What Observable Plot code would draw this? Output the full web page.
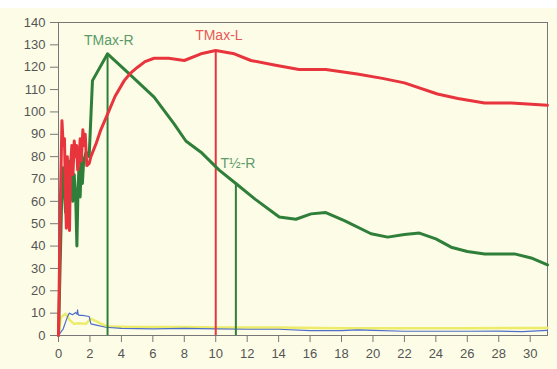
<!DOCTYPE html>
<html>
<head>
<meta charset="utf-8">
<script src="https://cdn.jsdelivr.net/npm/d3@7"></script>
<script src="https://cdn.jsdelivr.net/npm/@observablehq/plot@0.6"></script>
<style>
  html, body { margin: 0; padding: 0; background: #ffffff; }
  #top { height: 8px; background: #ffffff; }
  #chart svg { display: block; background: #fdfde7; }
</style>
</head>
<body>
<div id="top"></div>
<div id="chart"></div>
<script>
// Right kidney (green)
const rightT = [0, 0.2, 0.3, 0.45, 0.55, 0.62, 0.75, 0.9, 1.0, 1.1, 1.17, 1.24, 1.3, 1.38, 1.45, 1.52, 1.6, 1.75, 1.95, 2.16, 3.12, 4.5, 6.08, 7.34, 8.1, 9.06, 10.22, 11.28, 12.5, 14.04, 15.1, 16.06, 17.0, 18.18, 19.88, 20.94, 22.0, 22.95, 24.0, 24.97, 26.0, 27.1, 29.0, 30.06, 31.1];
const rightV = [0, 60, 75, 55, 72, 50, 78, 60, 72, 60, 40, 65, 75, 62, 80, 68, 78, 82, 80, 114, 126, 117, 106.6, 94.8, 87, 82, 74, 68, 61, 53, 52, 54.4, 55, 51.4, 45.5, 44, 45.2, 45.8, 43.2, 39.5, 37.6, 36.5, 36.5, 34.7, 31.6];
// Left kidney (red)
const leftT = [0, 0.12, 0.22, 0.3, 0.38, 0.45, 0.5, 0.56, 0.62, 0.7, 0.76, 0.85, 0.92, 1.0, 1.08, 1.15, 1.22, 1.3, 1.38, 1.45, 1.55, 1.62, 1.7, 1.8, 1.95, 2.06, 2.4, 2.69, 3.12, 3.6, 4.18, 4.6, 5.03, 5.5, 6.08, 7.0, 8.0, 9.06, 10.0, 11.18, 12.24, 13.72, 15.3, 17.0, 19.0, 20.6, 22.0, 24.1, 25.4, 27.1, 28.8, 31.1];
const leftV = [0, 60, 96, 85, 88, 60, 48, 80, 70, 47, 75, 85, 72, 87, 80, 85, 74, 78, 88, 78, 92, 85, 90, 76, 77, 80, 86, 92, 99, 107, 114, 117.5, 120, 122.5, 124, 124, 123, 126, 127.5, 126, 123, 121, 119, 119, 117, 115, 113, 108, 106, 104, 104, 103];
// Background (blue)
const blueT = [0, 0.3, 0.55, 0.68, 0.89, 1.1, 1.18, 1.21, 1.25, 1.31, 1.53, 1.95, 2.06, 2.48, 3.0, 4, 6, 8, 10, 12, 14, 16, 18, 19, 20, 22, 24, 26, 28, 29.5, 31.1];
const blueV = [0, 3, 8, 10, 9.3, 10.3, 9.5, 11.5, 9.5, 9, 9, 8.5, 5.2, 4.5, 3.7, 3.2, 3, 3.2, 3, 2.8, 2.8, 2.2, 2.2, 2.5, 2.3, 1.9, 1.9, 1.9, 2, 1.7, 2.3];
// Background (yellow)
const yellowT = [0, 0.15, 0.46, 0.7, 0.99, 1.3, 1.74, 2.06, 2.5, 3.1, 5, 8, 10, 14, 18, 22, 26, 31.1];
const yellowV = [0, 8.2, 9.7, 7, 5.2, 5.5, 5.2, 7.5, 6, 4, 3.8, 3.8, 3.6, 3.6, 3.2, 3.2, 3.2, 3.4];
// Markers
const markerNames = ["TMax-R", "TMax-L", "T½-R"];
const markerT = [3.12, 10.0, 11.28];
const markerV = [126, 127.5, 68];
const labelT = [3.2, 10.2, 10.3];
const labelV = [132, 134, 77];
const xTicks = d3.range(0, 31, 2);
const yTicks = d3.range(0, 141, 10);

const zip = (ts, vs) => ts.map((t, i) => ({t, v: vs[i]}));
const green = "#2f7f3a", red = "#e8343c";
const markerColors = [green, red, green];
const labelColors = ["#5a9a6a", "#e85858", "#5f9a6c"];
const markers = markerNames.map((n, i) => ({n, t: markerT[i], v: markerV[i], lt: labelT[i], lv: labelV[i], c: markerColors[i], lc: labelColors[i]}));

const chart = Plot.plot({
  width: 557,
  height: 361,
  marginTop: 14,
  marginBottom: 34,
  marginLeft: 58,
  marginRight: 10,
  style: {fontFamily: "Liberation Sans, Arial, sans-serif", fontSize: "13px", background: "#fdfde7", color: "#555"},
  x: {domain: [0, 31.1]},
  y: {domain: [0, 140]},
  marks: [
    Plot.frame({stroke: "#777", strokeWidth: 1}),
    Plot.axisX({ticks: xTicks, tickSize: 7, tickPadding: 6, label: null, stroke: "#777", fill: "#555", fontSize: 13}),
    Plot.axisY({ticks: yTicks, tickSize: 8, tickPadding: 5, label: null, stroke: "#777", fill: "#555", fontSize: 13}),
    Plot.line(zip(yellowT, yellowV), {x: "t", y: "v", stroke: "#ecec6a", strokeWidth: 2.5}),
    Plot.line(zip(blueT, blueV), {x: "t", y: "v", stroke: "#4f6fc8", strokeWidth: 1.2}),
    Plot.ruleX(markers, {x: "t", y1: 0, y2: "v", stroke: "c", strokeWidth: 2}),
    Plot.line(zip(rightT, rightV), {x: "t", y: "v", stroke: green, strokeWidth: 3, strokeLinejoin: "round"}),
    Plot.line(zip(leftT, leftV), {x: "t", y: "v", stroke: red, strokeWidth: 3, strokeLinejoin: "round"}),
    Plot.text(markers.slice(0, 2), {x: "lt", y: "lv", text: "n", fill: "lc", fontSize: 14, textAnchor: "middle"}),
    Plot.text(markers.slice(2), {x: "lt", y: "lv", text: "n", fill: "lc", fontSize: 14, textAnchor: "start"})
  ]
});
document.getElementById("chart").appendChild(chart);
</script>
</body>
</html>
